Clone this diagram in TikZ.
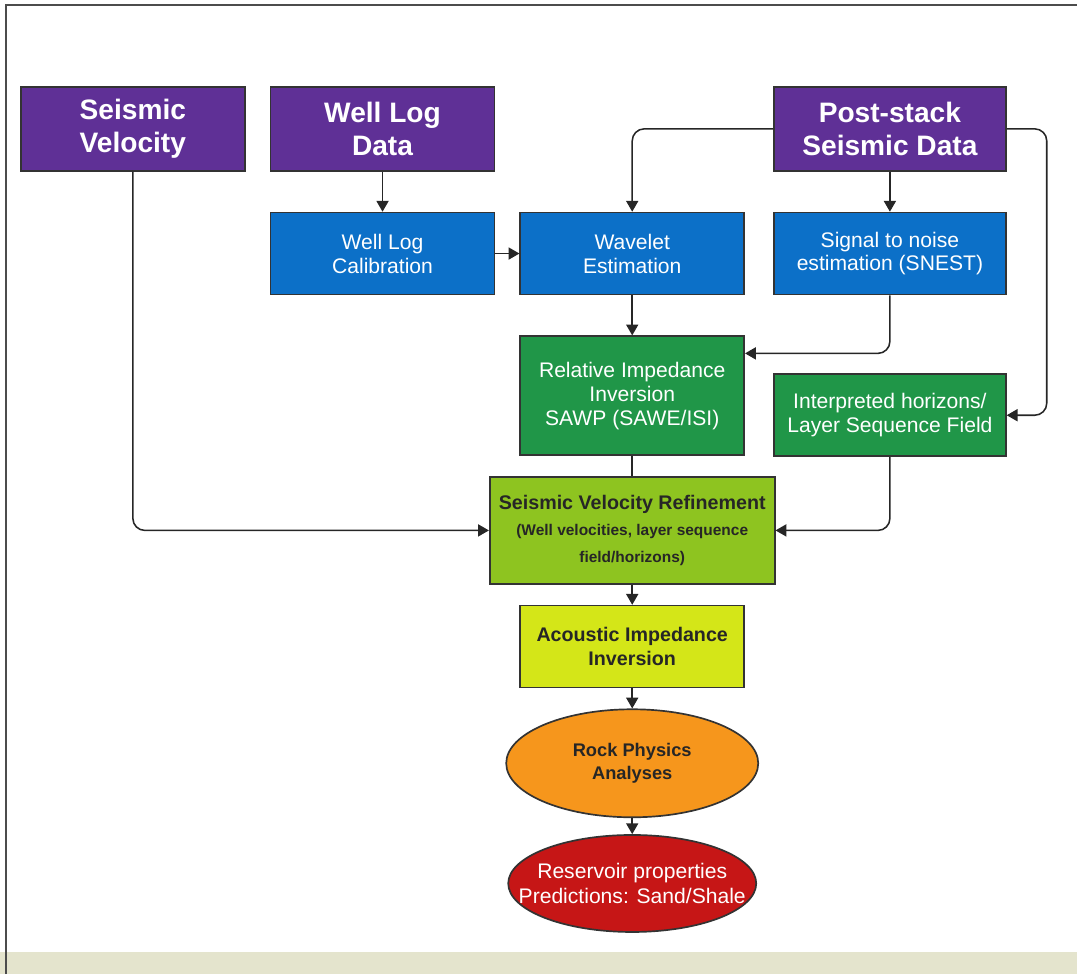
\documentclass[tikz,border=0pt]{standalone}
\usepackage{fontspec}
\setmainfont{Liberation Sans}
\usetikzlibrary{shapes, arrows, positioning, calc}

\definecolor{srcpurple}{RGB}{95,48,150}
\definecolor{procblue}{RGB}{12,112,200}
\definecolor{invgreen}{RGB}{32,150,72}
\definecolor{refgreen}{RGB}{142,196,32}
\definecolor{acyellow}{RGB}{212,230,24}
\definecolor{rockorange}{RGB}{246,150,28}
\definecolor{resred}{RGB}{198,22,22}
\definecolor{footbeige}{RGB}{228,228,205}

\begin{document}
\begin{tikzpicture}[%
    >=triangle 60,              % small filled tips
    node distance=10mm and 6mm, % vertical and horizontal box spacing
    ]

\tikzset{
  base/.style={draw=black!80, line width=1.2pt, align=center},
  src/.style={base, fill=srcpurple, text=white, minimum width=56mm, minimum height=21mm,
              font=\fontsize{20}{23.5}\selectfont\bfseries},
  proc/.style={base, fill=procblue, text=white, minimum width=56mm, minimum height=20.5mm,
               font=\fontsize{15}{17}\selectfont},
  inv/.style={base, fill=invgreen, text=white, minimum width=56mm, minimum height=20.5mm,
              font=\fontsize{15}{17}\selectfont},
  oval/.style={base, ellipse, minimum width=63mm, minimum height=27mm},
  conn/.style={->, line width=1.1pt, draw=black!85, rounded corners=3mm}
  };

% Page frame
\useasboundingbox (0,0) rectangle (269.25mm,-243.5mm);
\fill[footbeige] (0,-238mm) rectangle (269.25mm,-243.5mm);
\draw[black!70, line width=1.4pt] (1.5mm,-243.5mm) |- (269.25mm,-1.3mm);

% Input data
\node[src, anchor=north west] (seisvel) at (5mm,-21.5mm) { Seismic\\Velocity };
\node[src, right=of seisvel] (welldata) { Well Log\\Data };
\node[proc, below=of welldata] (calib) { Well Log\\Calibration };
\node[proc, right=of calib] (wavelet) { Wavelet\\Estimation };
\node[proc, right=7mm of wavelet, minimum width=58mm] (snest)
    { Signal to noise\\estimation (SNEST) };
\node[src, above=of snest, minimum width=58mm] (poststack) { Post-stack\\Seismic Data };

% Inversion
\node[inv, below=of wavelet, minimum height=29.75mm] (relimp)
    { Relative Impedance\\Inversion\\SAWP (SAWE/ISI) };
\node[inv, below=19.5mm of snest, minimum width=58mm] (horizons)
    { Interpreted horizons/\\Layer Sequence Field };

\node[base, fill=refgreen, text=black!85, below=5mm of relimp,
      minimum width=71.25mm, minimum height=26.75mm,
      font=\fontsize{11}{19}\selectfont\bfseries] (refine)
    { {\fontsize{14}{19}\selectfont Seismic Velocity Refinement}\\
      (Well velocities, layer sequence\\field/horizons) };
\node[base, fill=acyellow, text=black!85, below=5mm of refine,
      minimum width=56mm, minimum height=20.5mm,
      font=\fontsize{14}{17}\selectfont\bfseries] (acoustic)
    { Acoustic Impedance\\Inversion };

% Results
\node[oval, fill=rockorange, text=black!85, below=5mm of acoustic,
      font=\fontsize{13}{17}\selectfont\bfseries] (rock) { Rock Physics\\Analyses };
\node[oval, fill=resred, text=white, below=4mm of rock,
      minimum width=62mm, minimum height=24.25mm, inner xsep=-7mm,
      font=\fontsize{15}{18}\selectfont] (reservoir)
    { Reservoir properties\\Predictions: Sand/Shale };

\draw[conn] (welldata) -- (calib);
\draw[conn] (calib) -- (wavelet);
\draw[conn] (poststack) -- (snest);
\draw[conn] (poststack.west) -| (wavelet.north);
\draw[conn] (poststack.east) -- ++(10mm,0) |- (horizons.east);
\draw[conn] (wavelet) -- (relimp);
\draw[conn] (snest.south) |- ([yshift=-4.5mm]relimp.north east);
\draw[line width=1.1pt, draw=black!85] (relimp) -- (refine);

\draw[conn] (seisvel) |- (refine.west);
\draw[conn] (horizons) |- (refine.east);
\draw[conn] (refine) -- (acoustic);
\draw[conn] (acoustic) -- (rock);
\draw[conn] (rock) -- (reservoir);

\end{tikzpicture}
\end{document}
